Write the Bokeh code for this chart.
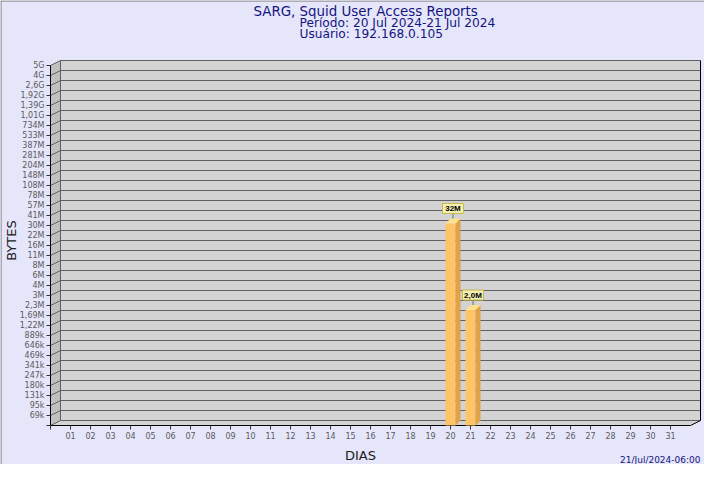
import numpy as np
from bokeh.plotting import figure
from bokeh.models import Range1d, FixedTicker, Label
from bokeh.core.properties import value
from bokeh.embed import file_html
from bokeh.resources import INLINE

# ---- data ----
days = [20, 21]
values = [32_000_000, 2_000_000]
value_labels = ["32M", "2,0M"]
y_tick_labels = ["69k", "95k", "131k", "180k", "247k", "341k", "469k", "646k", "889k",
                 "1,22M", "1,69M", "2,3M", "3M", "4M", "6M", "8M", "11M", "16M", "22M",
                 "30M", "41M", "57M", "78M", "108M", "148M", "204M", "281M", "387M",
                 "533M", "734M", "1,01G", "1,39G", "1,92G", "2,6G", "4G", "5G"]
y_tick_values = [69e3, 95e3, 131e3, 180e3, 247e3, 341e3, 469e3, 646e3, 889e3,
                 1.22e6, 1.69e6, 2.3e6, 3e6, 4e6, 6e6, 8e6, 11e6, 16e6, 22e6,
                 30e6, 41e6, 57e6, 78e6, 108e6, 148e6, 204e6, 281e6, 387e6,
                 533e6, 734e6, 1.01e9, 1.39e9, 1.92e9, 2.6e9, 4e9, 5e9]
x_days = list(range(1, 32))
title1 = "SARG, Squid User Access Reports"
title2 = "Período: 20 Jul 2024-21 Jul 2024"
title3 = "Usuário: 192.168.0.105"
date_text = "21/Jul/2024-06:00"

BG = "#E6E6FA"
WALL = "#D3D3D3"
SIDE = "#C0C0C0"
GRID = "#606060"
FONT = "DejaVu Sans"
NAVY = "#141480"

n_levels = len(y_tick_values)
levels = list(range(1, n_levels + 1))

def level_of(v):
    return float(np.interp(np.log(v), np.log(y_tick_values), levels))

tops = [level_of(v) for v in values]

XW = 32.0              # floor front right end (day units)
YMAX = n_levels + 0.5
DX, DY = 0.5, 0.5      # wall depth (data units)
BDX, BDY = 0.25, 0.5   # bar depth
BW = 0.25              # half bar width

# frame covers the whole canvas; axes are drawn at fixed locations inside it
p = figure(width=704, height=464, x_range=Range1d(-2.5, 32.7), y_range=Range1d(-3.9, 42.5),
           output_backend="svg", toolbar_location=None, title=None,
           min_border=0, background_fill_color=BG, border_fill_color=BG,
           outline_line_color=None)
p.xgrid.visible = False
p.ygrid.visible = False

# image border (left / top)
p.segment(x0=[-2.475, -2.5], y0=[-3.9, 42.45], x1=[-2.475, 32.7], y1=[42.5, 42.45],
          line_color="#707070", line_width=1)

# back wall
p.quad(left=DX, right=XW + DX, bottom=DY, top=YMAX, fill_color=WALL, line_color=None)
# floor
p.patch([0, XW, XW + DX, DX], [0, 0, DY, DY], fill_color=WALL, line_color=None)
# left side wall
p.patch([0, DX, DX, 0], [0, DY, YMAX, n_levels], fill_color=SIDE, line_color=None)

# grid lines on back wall
gy = [i + DY for i in range(0, n_levels + 1)]
p.segment(x0=[DX] * len(gy), y0=gy, x1=[XW + DX] * len(gy), y1=gy, line_color=GRID, line_width=1)
# diagonal connectors on side wall
dy0 = list(range(0, n_levels + 1))
p.segment(x0=[0] * len(dy0), y0=dy0, x1=[DX] * len(dy0), y1=[v + DY for v in dy0],
          line_color=GRID, line_width=1)
# wall edges
p.segment(x0=[DX], y0=[DY], x1=[DX], y1=[YMAX], line_color=GRID)
p.segment(x0=[XW + DX], y0=[DY], x1=[XW + DX], y1=[YMAX], line_color="black")
# front floor edge and y axis line
p.segment(x0=[0, XW, 0], y0=[0, 0, 0], x1=[XW, XW + DX, 0], y1=[0, DY, n_levels],
          line_color="black", line_width=1)

# bars
for d, t in zip(days, tops):
    p.quad(left=d - BW, right=d + BW, bottom=0, top=t, fill_color="#FFC466", line_color=None)
p.patches(xs=[[d + BW, d + BW + BDX, d + BW + BDX, d + BW] for d in days],
          ys=[[0, BDY, t + BDY, t] for t in tops], fill_color="#E0A24A", line_color=None)
p.patches(xs=[[d - BW, d + BW, d + BW + BDX, d - BW + BDX] for d in days],
          ys=[[t, t, t + BDY, t + BDY] for t in tops], fill_color="#FFE08C", line_color=None)

# value labels
lx = [d + 0.125 for d in days]
p.segment(x0=lx, y0=[t + BDY for t in tops], x1=lx, y1=[t + 1.0 for t in tops],
          line_color="#707070")
p.rect(x=lx, y=[t + 1.5 for t in tops], width=21, height=10,
       width_units="screen", height_units="screen",
       fill_color="#F4F0B4", line_color="#C8B848")
p.text(x=lx, y=[t + 1.5 for t in tops], text=value_labels, text_align="center",
       text_baseline="middle", text_font=value("Liberation Sans"),
       text_font_size=value("8px"), text_font_style="bold", text_color="black")

# axes (fixed inside the frame)
p.yaxis.fixed_location = 0
p.yaxis.ticker = FixedTicker(ticks=[0] + levels)
p.yaxis.major_label_overrides = {0: "", **{lv: lb for lv, lb in zip(levels, y_tick_labels)}}
p.yaxis.axis_line_color = None
p.yaxis.major_tick_out = 4
p.yaxis.major_tick_in = 0
p.yaxis.major_tick_line_color = "#333333"
p.yaxis.minor_tick_line_color = None
p.yaxis.major_label_standoff = 2
p.yaxis.major_label_text_font = FONT
p.yaxis.major_label_text_font_size = "8px"
p.yaxis.major_label_text_color = "#5A5A5A"

p.xaxis.fixed_location = 0
p.xaxis.ticker = FixedTicker(ticks=[0] + x_days)
p.xaxis.major_label_overrides = {0: "", **{d: "%02d" % d for d in x_days}}
p.xaxis.axis_line_color = None
p.xaxis.major_tick_out = 4
p.xaxis.major_tick_in = 0
p.xaxis.major_tick_line_color = "#333333"
p.xaxis.minor_tick_line_color = None
p.xaxis.major_label_standoff = 2
p.xaxis.major_label_text_font = FONT
p.xaxis.major_label_text_font_size = "8px"
p.xaxis.major_label_text_color = "#5A5A5A"

# titles / axis labels / date
for txt, x, y, fs in [(title1, 10.15, 41.4, "13.4px"), (title2, 12.45, 40.3, "12.2px"),
                      (title3, 12.45, 39.2, "12.2px")]:
    p.add_layout(Label(x=x, y=y, text=txt, text_font=FONT, text_font_size=fs,
                       text_color=NAVY, text_baseline="middle", text_align="left"))
p.add_layout(Label(x=-1.95, y=18.5, text="BYTES", angle=np.pi / 2, text_font=FONT,
                   text_font_size="13px", text_color="#202020", text_align="center",
                   text_baseline="middle"))
p.add_layout(Label(x=15.5, y=-3.0, text="DIAS", text_font=FONT, text_font_size="13px",
                   text_color="#202020", text_align="center", text_baseline="middle"))
p.add_layout(Label(x=32.5, y=-3.4, text=date_text, text_font=FONT, text_font_size="9px",
                   text_color=NAVY, text_align="right", text_baseline="middle"))

open("out.html", "w").write(file_html(p, INLINE))
